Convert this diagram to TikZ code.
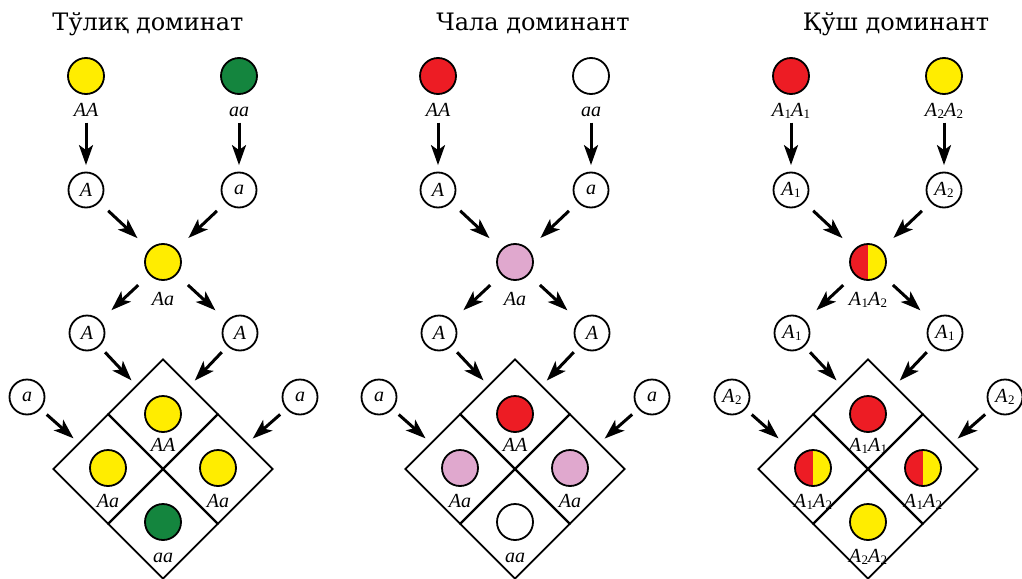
\documentclass[tikz,border=0pt]{standalone}
\usepackage{fontspec}
\setmainfont{Liberation Serif}
\newfontfamily\titlefont{DejaVu Serif}
\usetikzlibrary{arrows.meta,shapes.geometric}
\definecolor{yel}{RGB}{255,237,0}
\definecolor{grn}{RGB}{20,133,62}
\definecolor{redc}{RGB}{237,28,36}
\definecolor{pnk}{RGB}{224,168,206}
\newcommand\labfont{\fontsize{20}{23}\selectfont\itshape}
\newcommand\Asub[1]{A\kern0.5pt\raisebox{-0.3ex}{\fontsize{13}{14}\selectfont\upshape #1}}
\tikzset{
 arr/.style={line width=3pt,-{Stealth[length=20pt,width=14pt,inset=5pt]}},
 ball/.style={circle,draw,line width=1.8pt,minimum size=36pt,inner sep=0pt},
 gam/.style={circle,draw,line width=1.8pt,minimum size=35pt,inner sep=0pt,font=\labfont},
 lab/.style={inner sep=0pt,anchor=base,font=\labfont,text height=12pt,text depth=3pt},
 cell/.style={diamond,draw,line width=1.8pt,minimum width=110pt,minimum height=110pt,inner sep=0pt},
 ttl/.style={anchor=base,font=\titlefont\fontsize{24}{28}\selectfont},
 half/.style={fill=yel,path picture={\fill[redc] (path picture bounding box.south west) rectangle (path picture bounding box.north);}},
 vdown/.style={arr,shorten <=3.5pt,shorten >=6.5pt},
 toMid/.style={arr,shorten <=12pt,shorten >=16pt},
 fromMid/.style={arr,shorten <=15pt,shorten >=15pt},
 toCell/.style={arr,shorten <=8pt,shorten >=6.5pt},
}
\begin{document}
\begin{tikzpicture}[x=1pt,y=-1pt]
\useasboundingbox (0,0) rectangle (1022,578);
% titles
\node[ttl] (t1) at (148,31) {Тўлиқ доминат};
\node[ttl] (t2) at (533,31) {Чала доминант};
\node[ttl] (t3) at (896,31) {Қўш доминант};
% ===== panel 1 =====
\begin{scope}
\node[ball,fill=yel] (at1) at (86,76) {};
\node[ball,fill=grn] (at2) at (239,76) {};
\node[lab] (al1) at (86,116) {AA};
\node[lab] (al2) at (239,116) {aa};
\node[gam] (ag1) at (86,190) {A};
\node[gam] (ag2) at (239,190) {a};
\node[ball,fill=yel] (am) at (163,262) {};
\node[lab] (aml) at (163,305) {Aa};
\node[gam] (ah1) at (87,333) {A};
\node[gam] (ah2) at (240,333) {A};
\node[gam] (as1) at (27,397) {a};
\node[gam] (as2) at (300,397) {a};
\node[cell] (acT) at (163,414) {};
\node[cell] (acL) at (108,469) {};
\node[cell] (acR) at (218,469) {};
\node[cell] (acB) at (163,524) {};
\node[ball,fill=yel] (abT) at (163,414) {};
\node[ball,fill=yel] (abL) at (108,468) {};
\node[ball,fill=yel] (abR) at (218,468) {};
\node[ball,fill=grn] (abB) at (163,522) {};
\node[lab] (ablT) at (163,451) {AA};
\node[lab] (ablL) at (108,507) {Aa};
\node[lab] (ablR) at (218,507) {Aa};
\node[lab] (ablB) at (163,562) {aa};
\draw[vdown] (al1) -- (ag1);
\draw[vdown] (al2) -- (ag2);
\draw[toMid] (ag1) -- (am);
\draw[toMid] (ag2) -- (am);
\draw[fromMid] (am) -- (ah1);
\draw[fromMid] (am) -- (ah2);
\draw[toCell] (ah1) -- (acT);
\draw[toCell] (ah2) -- (acT);
\draw[toCell] (as1) -- (acL);
\draw[toCell] (as2) -- (acR);
\end{scope}
% ===== panel 2 =====
\begin{scope}[xshift=352pt]
\node[ball,fill=redc] (bt1) at (86,76) {};
\node[ball,fill=white] (bt2) at (239,76) {};
\node[lab] (bl1) at (86,116) {AA};
\node[lab] (bl2) at (239,116) {aa};
\node[gam] (bg1) at (86,190) {A};
\node[gam] (bg2) at (239,190) {a};
\node[ball,fill=pnk] (bm) at (163,262) {};
\node[lab] (bml) at (163,305) {Aa};
\node[gam] (bh1) at (87,333) {A};
\node[gam] (bh2) at (240,333) {A};
\node[gam] (bs1) at (27,397) {a};
\node[gam] (bs2) at (300,397) {a};
\node[cell] (bcT) at (163,414) {};
\node[cell] (bcL) at (108,469) {};
\node[cell] (bcR) at (218,469) {};
\node[cell] (bcB) at (163,524) {};
\node[ball,fill=redc] (bbT) at (163,414) {};
\node[ball,fill=pnk] (bbL) at (108,468) {};
\node[ball,fill=pnk] (bbR) at (218,468) {};
\node[ball,fill=white] (bbB) at (163,522) {};
\node[lab] (bblT) at (163,451) {AA};
\node[lab] (bblL) at (108,507) {Aa};
\node[lab] (bblR) at (218,507) {Aa};
\node[lab] (bblB) at (163,562) {aa};
\draw[vdown] (bl1) -- (bg1);
\draw[vdown] (bl2) -- (bg2);
\draw[toMid] (bg1) -- (bm);
\draw[toMid] (bg2) -- (bm);
\draw[fromMid] (bm) -- (bh1);
\draw[fromMid] (bm) -- (bh2);
\draw[toCell] (bh1) -- (bcT);
\draw[toCell] (bh2) -- (bcT);
\draw[toCell] (bs1) -- (bcL);
\draw[toCell] (bs2) -- (bcR);
\end{scope}
% ===== panel 3 =====
\begin{scope}[xshift=705pt]
\node[ball,fill=redc] (ct1) at (86,76) {};
\node[ball,fill=yel] (ct2) at (239,76) {};
\node[lab] (cl1) at (86,116) {\Asub{1}\Asub{1}};
\node[lab] (cl2) at (239,116) {\Asub{2}\Asub{2}};
\node[gam] (cg1) at (86,190) {\Asub{1}};
\node[gam] (cg2) at (239,190) {\Asub{2}};
\node[ball,half] (cm) at (163,262) {};
\node[lab] (cml) at (163,305) {\Asub{1}\Asub{2}};
\node[gam] (ch1) at (87,333) {\Asub{1}};
\node[gam] (ch2) at (240,333) {\Asub{1}};
\node[gam] (cs1) at (27,397) {\Asub{2}};
\node[gam] (cs2) at (300,397) {\Asub{2}};
\node[cell] (ccT) at (163,414) {};
\node[cell] (ccL) at (108,469) {};
\node[cell] (ccR) at (218,469) {};
\node[cell] (ccB) at (163,524) {};
\node[ball,fill=redc] (cbT) at (163,414) {};
\node[ball,half] (cbL) at (108,468) {};
\node[ball,half] (cbR) at (218,468) {};
\node[ball,fill=yel] (cbB) at (163,522) {};
\node[lab] (cblT) at (163,451) {\Asub{1}\Asub{1}};
\node[lab] (cblL) at (108,507) {\Asub{1}\Asub{2}};
\node[lab] (cblR) at (218,507) {\Asub{1}\Asub{2}};
\node[lab] (cblB) at (163,562) {\Asub{2}\Asub{2}};
\draw[vdown] (cl1) -- (cg1);
\draw[vdown] (cl2) -- (cg2);
\draw[toMid] (cg1) -- (cm);
\draw[toMid] (cg2) -- (cm);
\draw[fromMid] (cm) -- (ch1);
\draw[fromMid] (cm) -- (ch2);
\draw[toCell] (ch1) -- (ccT);
\draw[toCell] (ch2) -- (ccT);
\draw[toCell] (cs1) -- (ccL);
\draw[toCell] (cs2) -- (ccR);
\end{scope}
\end{tikzpicture}
\end{document}
